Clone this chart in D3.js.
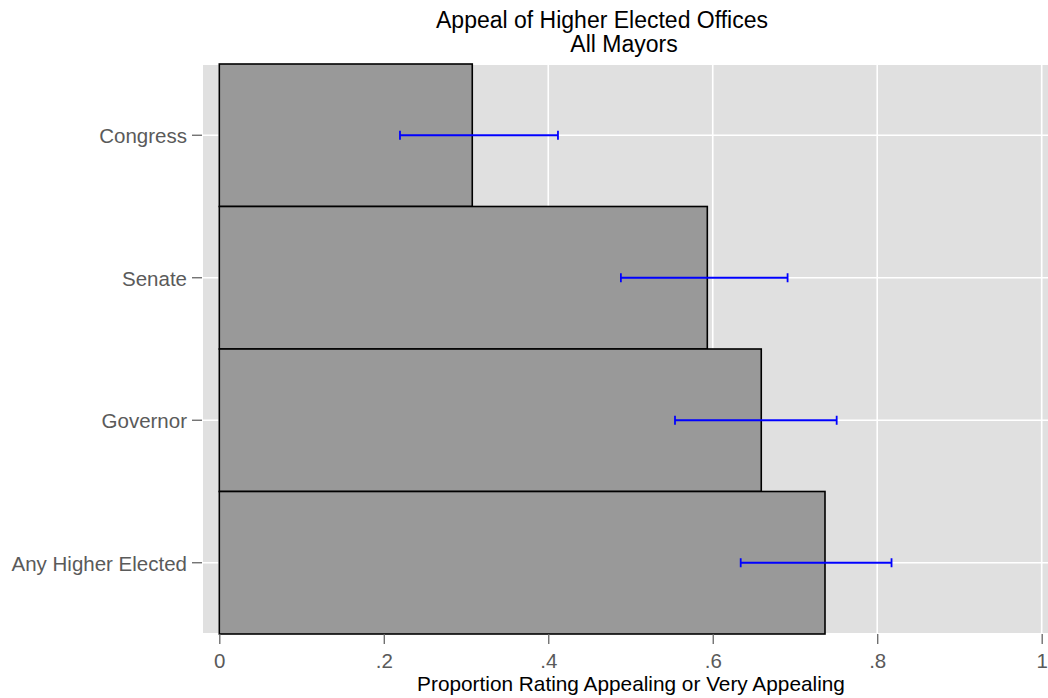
<!DOCTYPE html>
<html>
<head>
<meta charset="utf-8">
<script src="https://cdn.jsdelivr.net/npm/d3@7"></script>
<style>
  html, body { margin: 0; padding: 0; background: #fff; }
  svg { display: block; font-family: "Liberation Sans", Arial, Helvetica, sans-serif; }
</style>
</head>
<body>
<svg id="chart" width="1048" height="698"></svg>
<script>
const categories = ["Congress", "Senate", "Governor", "Any Higher Elected"];
const values = [0.3076, 0.5934, 0.6590, 0.7365];
const ciLow = [0.2197, 0.4883, 0.5541, 0.6340];
const ciHigh = [0.4118, 0.6910, 0.7507, 0.8174];
const xTicks = [0, 0.2, 0.4, 0.6, 0.8, 1];
const xTickLabels = ["0", ".2", ".4", ".6", ".8", "1"];
const titleLines = ["Appeal of Higher Elected Offices", "All Mayors"];
const xTitle = "Proportion Rating Appealing or Very Appealing";

const svg = d3.select("#chart");
const plot = { left: 203, right: 1048, top: 65, bottom: 633 };

const x = d3.scaleLinear().domain([0, 1]).range([219.3, 1041.7]);
const y = d3.scaleBand().domain(categories).range([64, 634]).padding(0);

// plot background
svg.append("rect")
  .attr("x", plot.left).attr("y", plot.top)
  .attr("width", plot.right - plot.left).attr("height", plot.bottom - plot.top)
  .attr("fill", "#e0e0e0");

// gridlines
const grid = svg.append("g");
grid.selectAll("line.v").data(xTicks).enter().append("line")
  .attr("x1", d => x(d)).attr("x2", d => x(d))
  .attr("y1", plot.top).attr("y2", plot.bottom)
  .attr("stroke", "#fff").attr("stroke-width", 1.6);
grid.selectAll("line.h").data(categories).enter().append("line")
  .attr("x1", plot.left).attr("x2", plot.right)
  .attr("y1", d => y(d) + y.bandwidth() / 2).attr("y2", d => y(d) + y.bandwidth() / 2)
  .attr("stroke", "#fff").attr("stroke-width", 1.6);

// bars
svg.append("g").selectAll("rect").data(categories).enter().append("rect")
  .attr("x", x(0))
  .attr("y", d => y(d))
  .attr("width", (d, i) => x(values[i]) - x(0))
  .attr("height", y.bandwidth())
  .attr("fill", "#999999")
  .attr("stroke", "#000")
  .attr("stroke-width", 1.6);

// error bars
const eb = svg.append("g").attr("stroke", "#0000ff").attr("stroke-width", 1.8);
categories.forEach((c, i) => {
  const cy = y(c) + y.bandwidth() / 2;
  eb.append("line").attr("x1", x(ciLow[i])).attr("x2", x(ciHigh[i])).attr("y1", cy).attr("y2", cy);
  eb.append("line").attr("x1", x(ciLow[i])).attr("x2", x(ciLow[i])).attr("y1", cy - 4.5).attr("y2", cy + 4.5);
  eb.append("line").attr("x1", x(ciHigh[i])).attr("x2", x(ciHigh[i])).attr("y1", cy - 4.5).attr("y2", cy + 4.5);
});

// x axis
const xAxis = d3.axisBottom(x).tickValues(xTicks)
  .tickFormat((d, i) => xTickLabels[i]).tickSize(10).tickPadding(9);
const gx = svg.append("g").attr("transform", `translate(0,${plot.bottom + 1})`).call(xAxis);
gx.select(".domain").remove();
gx.selectAll(".tick line").attr("stroke", "#666").attr("stroke-width", 1.3);
gx.selectAll(".tick text").attr("fill", "#5a5a5a").style("font-size", "20.5px")
  .style("font-family", '"Liberation Sans", Arial, sans-serif');

// y axis
const yAxis = d3.axisLeft(y).tickSize(10).tickPadding(5);
const gy = svg.append("g").attr("transform", `translate(${plot.left - 1},0)`).call(yAxis);
gy.select(".domain").remove();
gy.selectAll(".tick line").attr("stroke", "#666").attr("stroke-width", 1.3);
gy.selectAll(".tick text").attr("fill", "#5a5a5a").style("font-size", "20.5px")
  .attr("dy", "0.38em")
  .style("font-family", '"Liberation Sans", Arial, sans-serif');

// titles
svg.append("text").attr("x", 602).attr("y", 28).attr("text-anchor", "middle")
  .style("font-size", "23px").attr("fill", "#000").text(titleLines[0]);
svg.append("text").attr("x", 624).attr("y", 52).attr("text-anchor", "middle")
  .style("font-size", "23px").attr("fill", "#000").text(titleLines[1]);
svg.append("text").attr("x", 631).attr("y", 691).attr("text-anchor", "middle")
  .style("font-size", "20.8px").attr("fill", "#000").text(xTitle);
</script>
</body>
</html>
